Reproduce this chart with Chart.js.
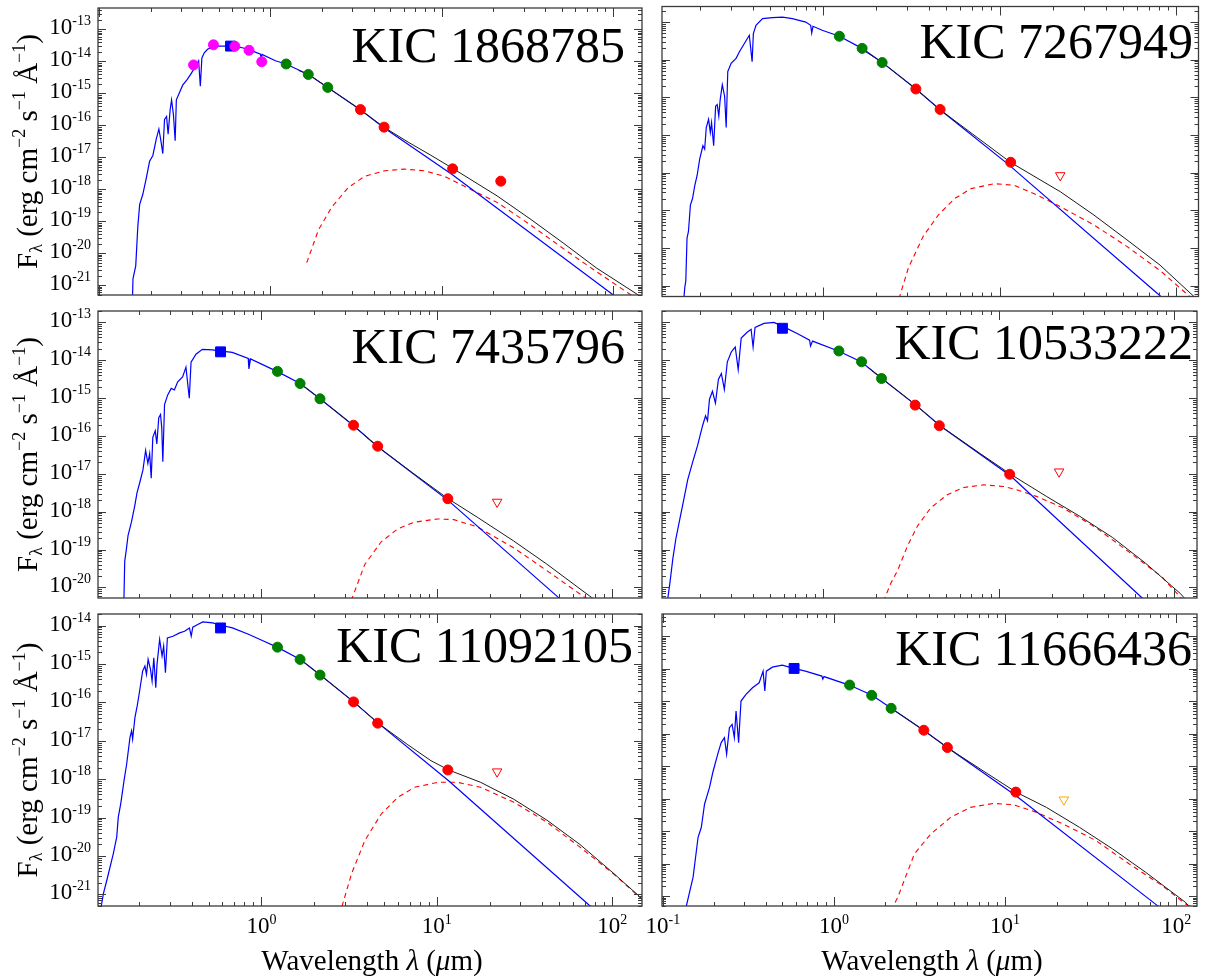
<!DOCTYPE html>
<html><head><meta charset="utf-8">
<script src="https://cdn.jsdelivr.net/npm/chart.js@4.4.1/dist/chart.umd.min.js"></script>
<style>
html,body{margin:0;padding:0;background:#fff;}
#wrap{position:relative;width:1205px;height:979px;background:#fff;overflow:hidden;}
canvas{position:absolute;}
</style></head><body><div id="wrap"></div>
<script>
// ===== DATA: [wavelength (micron), F_lambda (erg cm^-2 s^-1 A^-1)] =====
// KIC 1868785
const tlSpec = [[0.1565,3e-22],[0.1578,1.64e-21],[0.1637,4.07e-21],[0.1683,6.76e-20],[0.1726,3.39e-19],[0.1799,6.92e-19],[0.1888,2.29e-18],[0.1972,7.59e-18],[0.2061,1.15e-17],[0.2158,3.80e-17],[0.2234,7.76e-17],[0.2286,3.80e-17],[0.2355,1.32e-17],[0.2410,1.55e-16],[0.2477,1.91e-16],[0.2529,5.37e-17],[0.2600,3.16e-16],[0.2649,6.31e-16],[0.2716,2.19e-16],[0.2780,3.31e-17],[0.2825,6.31e-16],[0.2944,1.05e-15],[0.3076,1.82e-15],[0.3273,2.75e-15],[0.3451,4.27e-15],[0.3681,7.41e-15],[0.3811,1.05e-14],[0.3899,1.70e-15],[0.3981,1.29e-14],[0.4111,1.86e-14],[0.4295,2.40e-14],[0.4592,2.82e-14],[0.5023,3.02e-14],[0.5998,3.02e-14],[0.6855,2.69e-14],[0.7816,2.14e-14],[0.8750,1.70e-14],[0.8831,1.17e-14],[0.8933,1.66e-14],[1.069,1.05e-14],[1.230,8.36e-15],[1.667,3.94e-15],[2.158,1.55e-15],[3.334,3.13e-16],[4.592,8.53e-17],[11.53,2.88e-18],[97.5,5.57e-22],[136.1,1.48e-22]];
const tlDisk = [[1.629,5.14e-21],[1.905,5.38e-20],[2.275,2.77e-19],[2.838,1.13e-18],[3.548,2.58e-18],[4.634,3.82e-18],[6.053,4.31e-18],[7.907,3.82e-18],[10.33,2.58e-18],[13.46,1.27e-18],[20.99,3.94e-19],[32.73,7.94e-20],[51.17,1.41e-20],[79.80,2.69e-21],[127.1,5.0e-22],[155.2,2.4e-22]];
const tlTotal = [[1.459,5.22e-15],[1.667,3.94e-15],[2.158,1.55e-15],[3.334,3.13e-16],[4.592,8.85e-17],[6.353,3.02e-17],[8.630,1.17e-17],[11.53,4.61e-18],[20.99,6.3e-19],[32.73,1.2e-19],[51.17,2.1e-20],[79.8,3.5e-21],[135.8,5.57e-22],[154.9,3.39e-22]];
const tlSdss = [[0.356,7.8e-15],[0.465,3.32e-14],[0.62,3.0e-14],[0.75,2.24e-14],[0.89,9.8e-15]];
const tlKp = [[0.585,3.03e-14]];
const tl2mass = [[1.235,8.35e-15],[1.662,3.93e-15],[2.159,1.55e-15]];
const tlWise = [[3.353,3.13e-16],[4.603,8.85e-17],[11.56,4.4e-18],[22.08,1.81e-18]];

// KIC 7267949
const trSpec = [[0.1589,1.45e-21],[0.1641,8.85e-21],[0.1663,1.33e-20],[0.1690,1.82e-19],[0.1722,2.74e-19],[0.1766,1.37e-18],[0.1816,2.06e-18],[0.1871,4.59e-18],[0.1928,8.41e-18],[0.1995,2.31e-17],[0.2080,5.18e-17],[0.2128,4.24e-17],[0.2173,1.58e-16],[0.2239,2.61e-16],[0.2291,1.16e-16],[0.2328,2.13e-16],[0.2393,5.18e-17],[0.2455,5.83e-16],[0.2506,6.46e-16],[0.2559,3.18e-16],[0.2606,8.75e-16],[0.2679,2.17e-15],[0.2761,1.07e-15],[0.2818,1.58e-16],[0.2877,4.85e-15],[0.3006,8.05e-15],[0.3206,1.09e-14],[0.3350,1.63e-14],[0.3573,2.70e-14],[0.3811,4.47e-14],[0.3954,8.87e-15],[0.4018,4.95e-14],[0.4159,8.18e-14],[0.4529,1.23e-13],[0.5164,1.31e-13],[0.5875,1.35e-13],[0.6683,1.23e-13],[0.7962,1.0e-13],[0.8492,8.18e-14],[0.8610,5.14e-14],[0.8750,7.71e-14],[0.9863,6.05e-14],[1.236,4.21e-14],[1.660,2.0e-14],[2.168,8.36e-15],[3.357,1.67e-15],[4.58,4.77e-16],[11.12,1.71e-17],[81.3,5.36e-21],[148.9,4.7e-22]];
const trDisk = [[2.60,2.63e-21],[3.04,2.95e-20],[3.69,2.04e-19],[4.49,7.48e-19],[5.57,2.06e-18],[6.90,3.77e-18],[9.35,5.1e-18],[12.13,4.6e-18],[16.41,2.51e-18],[22.2,1.24e-18],[34.3,4.08e-19],[52.7,1.10e-19],[81.3,2.51e-20],[120,5.1e-21],[148.9,2.2e-21]];
const trTotal = [[1.588,2.16e-14],[2.168,8.36e-15],[3.357,1.67e-15],[4.58,4.77e-16],[7.06,1.05e-16],[11.52,1.89e-17],[22.2,3.08e-18],[34.3,7.48e-19],[52.7,1.65e-19],[81.3,3.5e-20],[125.3,5.36e-21],[148.9,2.4e-21]];
const tr2mass = [[1.235,4.2e-14],[1.662,2.0e-14],[2.159,8.4e-15]];
const trWise = [[3.353,1.67e-15],[4.603,4.77e-16],[11.56,1.89e-17]];
const trLimit = [[22.08,8.43e-18]];

// KIC 7435796
const mlSpec = [[0.1640,2.24e-21],[0.1663,4.9e-20],[0.1702,1.08e-19],[0.1738,2.39e-19],[0.1816,5.3e-19],[0.1897,1.43e-18],[0.1954,3.16e-18],[0.2023,5.74e-18],[0.2113,1.27e-17],[0.2188,4.17e-17],[0.2254,1.89e-17],[0.2307,3.43e-17],[0.2355,7.73e-18],[0.2404,9.2e-17],[0.2483,1.37e-16],[0.2535,6.21e-17],[0.2600,3.03e-16],[0.2661,3.71e-16],[0.2704,1.67e-16],[0.2742,2.08e-17],[0.2805,6.73e-16],[0.2924,1.22e-15],[0.3062,1.81e-15],[0.3192,1.64e-15],[0.3334,2.69e-15],[0.3556,3.63e-15],[0.3715,6.58e-15],[0.3882,9.95e-16],[0.3972,8.87e-15],[0.4236,1.45e-14],[0.4613,1.95e-14],[0.5260,1.89e-14],[0.5741,1.78e-14],[0.6823,1.61e-14],[0.8414,1.12e-14],[0.8492,5.94e-15],[0.8670,1.08e-14],[1.227,5.09e-15],[1.665,2.43e-15],[2.160,9.6e-16],[3.334,1.93e-16],[4.57,5.38e-17],[11.60,2.0e-18],[49.3,5.5e-21],[177.4,2.57e-23]];
const mlDisk = [[3.12,2.7e-21],[3.88,4.0e-20],[4.82,1.61e-19],[6.0,3.56e-19],[7.45,5.3e-19],[10.09,6.46e-19],[12.53,6.2e-19],[17.0,3.98e-19],[27.4,1.12e-19],[42.3,2.82e-20],[69.7,5.5e-21],[81.3,3.3e-21]];
const mlTotal = [[1.665,2.43e-15],[2.160,9.6e-16],[3.334,1.93e-16],[4.57,5.38e-17],[7.29,1.06e-17],[11.60,2.21e-18],[17.0,7.2e-19],[27.4,1.7e-19],[42.3,4.17e-20],[76.1,5.5e-21],[92.5,2.7e-21]];
const mlKp = [[0.585,1.67e-14]];
const ml2mass = [[1.235,5.09e-15],[1.662,2.43e-15],[2.159,9.6e-16]];
const mlWise = [[3.353,1.93e-16],[4.603,5.38e-17],[11.56,2.21e-18]];
const mlLimit = [[22.08,1.81e-18]];

// KIC 10533222
const mrSpec = [[0.1309,2.57e-21],[0.1316,5.27e-21],[0.1351,1.29e-20],[0.1405,5.77e-20],[0.1461,1.91e-19],[0.1538,6.32e-19],[0.1621,2.09e-18],[0.1706,6.93e-18],[0.1821,2.04e-17],[0.1943,5.64e-17],[0.2073,1.87e-16],[0.2156,3.40e-16],[0.2212,2.52e-16],[0.2270,9.38e-16],[0.2360,1.51e-15],[0.2454,7.38e-16],[0.2551,3.10e-15],[0.2652,4.45e-15],[0.2758,1.71e-15],[0.2868,9.12e-15],[0.3020,1.66e-14],[0.3180,2.24e-14],[0.3306,5.65e-15],[0.3438,3.84e-14],[0.3716,5.50e-14],[0.3914,6.58e-14],[0.4017,2.24e-14],[0.4122,7.41e-14],[0.4634,9.42e-14],[0.5276,1.0e-13],[0.5929,7.87e-14],[0.7295,4.88e-14],[0.8415,3.40e-14],[0.8525,2.38e-14],[0.8749,3.21e-14],[1.226,1.76e-14],[1.652,9.12e-15],[2.169,3.30e-15],[3.385,6.55e-16],[4.645,1.87e-16],[11.72,8.81e-18],[65.5,5.27e-21],[148.9,2.64e-22]];
const mrDisk = [[2.114,2.57e-21],[2.438,1.29e-20],[2.670,2.87e-20],[3.040,1.28e-19],[3.461,4.24e-19],[4.113,1.27e-18],[5.108,2.82e-18],[6.343,4.38e-18],[8.222,5.14e-18],[10.66,4.65e-18],[12.66,3.81e-18],[16.41,2.55e-18],[23.21,1.27e-18],[35.75,3.80e-19],[55.07,8.7e-20],[84.92,1.9e-20],[105.3,6.3e-21],[130.8,2.24e-21]];
const mrTotal = [[1.809,6.49e-15],[2.169,3.30e-15],[3.385,6.55e-16],[4.645,1.87e-16],[7.87,3.43e-17],[11.72,9.75e-18],[18.69,2.55e-18],[28.79,7.71e-19],[44.4,2.1e-19],[68.4,4.4e-20],[107.7,7.0e-21],[130.8,2.6e-21]];
const mrKp = [[0.59,7.0e-14]];
const mr2mass = [[1.235,1.76e-14],[1.662,9.1e-15],[2.159,3.3e-15]];
const mrWise = [[3.353,6.55e-16],[4.603,1.87e-16],[11.56,9.75e-18]];
const mrLimit = [[22.08,1.14e-17]];

// KIC 11092105
const blSpec = [[0.1205,3.47e-22],[0.1258,1.06e-21],[0.1315,2.34e-21],[0.1432,1.16e-20],[0.1497,3.11e-20],[0.1528,1.03e-19],[0.1578,2.29e-19],[0.1648,9.18e-19],[0.1706,2.49e-18],[0.1782,1.22e-17],[0.1820,1.82e-17],[0.1845,1.11e-17],[0.1901,4.02e-17],[0.1959,8.09e-17],[0.2009,1.63e-16],[0.2104,6.53e-16],[0.2168,8.81e-16],[0.2213,5.37e-16],[0.2261,1.32e-15],[0.2333,7.23e-16],[0.2382,3.60e-16],[0.2436,1.45e-15],[0.2500,2.41e-16],[0.2541,9.75e-16],[0.2630,4.34e-15],[0.2716,1.60e-15],[0.2773,2.90e-15],[0.2838,5.90e-16],[0.2911,4.78e-15],[0.3133,5.28e-15],[0.3420,6.43e-15],[0.3648,7.11e-15],[0.3890,8.67e-15],[0.3981,5.28e-15],[0.4064,9.04e-15],[0.4335,1.06e-14],[0.4634,1.24e-14],[0.5272,1.17e-14],[0.5888,1.02e-14],[0.6839,8.67e-15],[0.8506,5.85e-15],[1.012,4.08e-15],[1.230,2.74e-15],[1.668,1.31e-15],[2.167,5.14e-16],[3.357,1.03e-16],[4.63,2.88e-17],[11.68,9.1e-19],[74.0,5.25e-22],[156,3.6e-23]];
const blDisk = [[2.786,2.9e-22],[3.269,3.50e-21],[3.893,2.56e-20],[4.834,1.26e-19],[6.007,3.39e-19],[7.468,6.15e-19],[10.12,8.30e-19],[13.13,8.30e-19],[17.79,6.15e-19],[27.50,2.51e-19],[42.43,7.62e-20],[65.49,1.71e-20],[101.2,3.50e-21],[149.6,7.11e-22]];
const blTotal = [[1.668,1.31e-15],[2.167,5.14e-16],[3.357,1.03e-16],[4.63,2.88e-17],[6.84,7.88e-18],[9.27,3.03e-18],[11.68,1.74e-18],[17.79,8.30e-19],[27.5,3.0e-19],[42.43,8.6e-20],[65.49,2.0e-20],[101.2,3.63e-21],[149.6,7.41e-22]];
const blKp = [[0.585,8.67e-15]];
const bl2mass = [[1.235,2.74e-15],[1.662,1.31e-15],[2.159,5.14e-16]];
const blWise = [[3.353,1.03e-16],[4.603,2.88e-17],[11.56,1.74e-18]];
const blLimit = [[22.08,1.57e-18]];

// KIC 11666436
const brSpec = [[0.1363,2.58e-22],[0.1375,5.23e-22],[0.1503,3.85e-21],[0.1607,6.50e-20],[0.1679,1.32e-19],[0.1754,6.88e-19],[0.1875,2.22e-18],[0.1959,6.41e-18],[0.2094,2.35e-17],[0.2193,5.33e-17],[0.2291,7.59e-17],[0.2360,2.35e-17],[0.2449,1.54e-16],[0.2541,1.95e-16],[0.2618,7.59e-17],[0.2679,5.00e-16],[0.2773,5.33e-17],[0.2864,1.01e-15],[0.3062,1.63e-15],[0.3342,2.60e-15],[0.3656,3.69e-15],[0.3855,8.43e-15],[0.3945,2.06e-15],[0.4027,8.43e-15],[0.4365,1.12e-14],[0.4989,1.29e-14],[0.5827,1.02e-14],[0.6810,8.43e-15],[0.8500,5.93e-15],[0.861,4.80e-15],[0.875,5.73e-15],[1.229,3.14e-15],[1.671,1.52e-15],[2.162,6.05e-16],[3.342,1.28e-16],[4.60,3.75e-17],[11.59,1.24e-18],[77.4,5.23e-22],[147.4,3.83e-23]];
const brDisk = [[2.153,3.66e-22],[2.364,9.38e-22],[2.953,2.01e-20],[3.684,8.26e-20],[4.810,2.67e-19],[6.281,5.41e-19],[8.579,7.18e-19],[11.20,6.55e-19],[15.28,3.80e-19],[21.82,1.67e-19],[34.01,5.15e-20],[53.02,9.93e-21],[82.77,2.14e-21],[112.9,5.89e-22],[137.9,3.18e-22]];
const brTotal = [[2.162,6.05e-16],[3.342,1.28e-16],[4.60,3.75e-17],[7.44,7.22e-18],[11.59,1.60e-18],[17.46,5.41e-19],[27.22,1.32e-19],[42.49,2.86e-20],[66.26,5.48e-21],[112.9,6.59e-22],[118,5.23e-22],[140,2.5e-22]];
const brKp = [[0.585,1.02e-14]];
const br2mass = [[1.235,3.14e-15],[1.662,1.52e-15],[2.159,6.05e-16]];
const brWise = [[3.353,1.28e-16],[4.603,3.75e-17],[11.56,1.60e-18]];
const brLimit = [[22.08,9.31e-19]];

// tick label exponents (powers of ten)
const tlYTicks = [-13,-14,-15,-16,-17,-18,-19,-20,-21];
const mlYTicks = [-13,-14,-15,-16,-17,-18,-19,-20];
const blYTicks = [-14,-15,-16,-17,-18,-19,-20,-21];
const blXTicks = [0,1,2];
const brXTicks = [-1,0,1,2];
const titles = ['KIC 1868785','KIC 7267949','KIC 7435796','KIC 10533222','KIC 11092105','KIC 11666436'];

// ===== RENDERING =====
const FONT = '"Liberation Serif","Times New Roman",Times,serif';
const MAJ = 8, MIN = 4;

function pts(arr){ return arr.map(p => ({x:p[0], y:p[1]})); }
function lineDS(arr, color, width, dash, order){
  return {data: pts(arr), showLine:true, borderColor:color, backgroundColor:color, borderWidth:width, borderDash:dash||[], pointRadius:0, pointHoverRadius:0, tension:0, fill:false, order:order};
}
function markDS(arr, style, color, radius, extra){
  return Object.assign({data: pts(arr), showLine:false, pointStyle:style, pointRadius:radius, pointHoverRadius:radius, backgroundColor:color, borderColor:color, borderWidth:1, order:0}, extra||{});
}
function limDS(arr, color){
  return markDS(arr, 'triangle', color, 5.5, {backgroundColor:'rgba(255,255,255,0)', pointRotation:180, borderWidth:1});
}

function expStr(e){ return e < 0 ? '-' + Math.abs(e) : String(e); }
function drawRich(ctx, segs, x, y, align){
  let w = 0;
  segs.forEach(s => { ctx.font = (s.it ? 'italic ' : '') + s.size + 'px ' + FONT; s.w = ctx.measureText(s.t).width; w += s.w; });
  let cx = align === 'right' ? x - w : (align === 'center' ? x - w/2 : x);
  ctx.textAlign = 'left'; ctx.textBaseline = 'alphabetic';
  segs.forEach(s => { ctx.font = (s.it ? 'italic ' : '') + s.size + 'px ' + FONT; ctx.fillText(s.t, cx, y + (s.dy || 0)); cx += s.w; });
}
function powSegs(e){ return [{t:'10', size:23}, {t:expStr(e), size:14, dy:-9}]; }

function drawTicks(ctx, s, a, horiz){
  const lo = Math.log10(s.min), hi = Math.log10(s.max);
  for (let d = Math.floor(lo); d <= Math.ceil(hi); d++){
    for (let k = 1; k <= 9; k++){
      const v = k * Math.pow(10, d), lv = Math.log10(v);
      if (lv < lo - 1e-9 || lv > hi + 1e-9) continue;
      const p = Math.round(s.getPixelForValue(v)) + 0.5;
      const L = k === 1 ? MAJ : MIN;
      ctx.beginPath();
      if (horiz){ ctx.moveTo(p, a.bottom); ctx.lineTo(p, a.bottom - L - (k===1?1:0)); ctx.moveTo(p, a.top); ctx.lineTo(p, a.top + L + (k===1?1:0)); }
      else { ctx.moveTo(a.left, p); ctx.lineTo(a.left + L, p); ctx.moveTo(a.right, p); ctx.lineTo(a.right - L, p); }
      ctx.stroke();
    }
  }
}

const panelPlugin = {
  id: 'panel',
  afterDraw(chart, args, o){
    const ctx = chart.ctx, a = chart.chartArea, xs = chart.scales.x, ys = chart.scales.y;
    ctx.save();
    ctx.strokeStyle = '#3a3a3a'; ctx.lineWidth = 1;
    drawTicks(ctx, xs, a, true);
    drawTicks(ctx, ys, a, false);
    ctx.lineWidth = 1.3;
    ctx.strokeRect(a.left, a.top, a.right - a.left, a.bottom - a.top);
    ctx.fillStyle = '#000';
    (o.yLabels || []).forEach(e => {
      const p = ys.getPixelForValue(Math.pow(10, e));
      drawRich(ctx, powSegs(e), a.left - 7, p + 5, 'right');
    });
    (o.xLabels || []).forEach(e => {
      const p = xs.getPixelForValue(Math.pow(10, e));
      drawRich(ctx, powSegs(e), p, a.bottom + 27, 'center');
    });
    ctx.font = '50px ' + FONT; ctx.textAlign = 'right'; ctx.textBaseline = 'alphabetic';
    ctx.fillText(o.title, o.titleX, o.titleY);
    if (o.yTitle){
      ctx.save();
      ctx.translate(37, (a.top + a.bottom) / 2);
      ctx.rotate(-Math.PI / 2);
      drawRich(ctx, [
        {t:'F', size:29}, {t:'\u03BB', size:18, dy:5}, {t:' (erg cm', size:29},
        {t:'\u22122', size:18, dy:-12}, {t:' s', size:29}, {t:'\u22121', size:18, dy:-12},
        {t:' \u00C5', size:29}, {t:'\u22121', size:18, dy:-12}, {t:')', size:29}
      ], 0, 0, 'center');
      ctx.restore();
    }
    if (o.xTitle){
      drawRich(ctx, [
        {t:'Wavelength ', size:29}, {t:'\u03BB', size:29, it:true}, {t:' (', size:29},
        {t:'\u03BC', size:29, it:true}, {t:'m)', size:29}
      ], o.xTitleX, a.bottom + 64, 'center');
    }
    ctx.restore();
  }
};

function datasets(spec, disk, total, marks){
  return [
    lineDS(disk, '#ff0000', 1.1, [5,4], 3),
    lineDS(spec, '#0000ff', 1.2, [], 2),
    lineDS(total, '#1a1a1a', 1, [], 1)
  ].concat(marks);
}

const LEFT = {left:0, width:650, pl:98, pr:4};
const RIGHT = {left:640, width:565, pl:22, pr:3};
const ROW1 = {top:0, height:303, pt:6, pb:4};
const ROW2 = {top:303, height:303, pt:5, pb:5};
const ROW3 = {top:606, height:373, pt:7, pb:73};

const panels = [
  {col:LEFT, row:ROW1, x:[0.0986,147.2], y:[5.31e-22,4.70e-13],
   ds: datasets(tlSpec, tlDisk, tlTotal, [
     markDS(tlSdss,'circle','#ff00ff',5), markDS(tlKp,'rect','#0000ff',7),
     markDS(tl2mass,'circle','#008000',5), markDS(tlWise,'circle','#ff0000',5)]),
   opt:{title:titles[0], titleX:625, titleY:62, yLabels:tlYTicks, yTitle:true}},
  {col:RIGHT, row:ROW1, x:[0.1219,134.3], y:[5.14e-21,2.59e-13],
   ds: datasets(trSpec, trDisk, trTotal, [
     markDS(tr2mass,'circle','#008000',5), markDS(trWise,'circle','#ff0000',5), limDS(trLimit,'#ff0000')]),
   opt:{title:titles[1], titleX:553, titleY:58}},
  {col:LEFT, row:ROW2, x:[0.1171,147.9], y:[5.28e-21,2.0e-13],
   ds: datasets(mlSpec, mlDisk, mlTotal, [
     markDS(mlKp,'rect','#0000ff',7), markDS(ml2mass,'circle','#008000',5),
     markDS(mlWise,'circle','#ff0000',5), limDS(mlLimit,'#ff0000')]),
   opt:{title:titles[2], titleX:625, titleY:60, yLabels:mlYTicks, yTitle:true}},
  {col:RIGHT, row:ROW2, x:[0.1219,134.3], y:[5.28e-21,2.0e-13],
   ds: datasets(mrSpec, mrDisk, mrTotal, [
     markDS(mrKp,'rect','#0000ff',7), markDS(mr2mass,'circle','#008000',5),
     markDS(mrWise,'circle','#ff0000',5), limDS(mrLimit,'#ff0000')]),
   opt:{title:titles[3], titleX:553, titleY:56}},
  {col:LEFT, row:ROW3, x:[0.1171,147.9], y:[5.01e-22,2.0e-14],
   ds: datasets(blSpec, blDisk, blTotal, [
     markDS(blKp,'rect','#0000ff',7), markDS(bl2mass,'circle','#008000',5),
     markDS(blWise,'circle','#ff0000',5), limDS(blLimit,'#ff0000')]),
   opt:{title:titles[4], titleX:633, titleY:56, yLabels:blYTicks, xLabels:blXTicks, yTitle:true, xTitle:true, xTitleX:372}},
  {col:RIGHT, row:ROW3, x:[0.0989,132.4], y:[5.13e-22,4.83e-13],
   ds: datasets(brSpec, brDisk, brTotal, [
     markDS(brKp,'rect','#0000ff',7), markDS(br2mass,'circle','#008000',5),
     markDS(brWise,'circle','#ff0000',5), limDS(brLimit,'#ffa500')]),
   opt:{title:titles[5], titleX:552, titleY:59, xLabels:brXTicks, xTitle:true, xTitleX:292}}
];

const wrap = document.getElementById('wrap');
panels.forEach(p => {
  const c = document.createElement('canvas');
  c.width = p.col.width; c.height = p.row.height;
  c.style.left = p.col.left + 'px'; c.style.top = p.row.top + 'px';
  c.style.width = p.col.width + 'px'; c.style.height = p.row.height + 'px';
  wrap.appendChild(c);
  new Chart(c.getContext('2d'), {
    type: 'scatter',
    data: {datasets: p.ds},
    options: {
      responsive:false, animation:false, devicePixelRatio:1, events:[],
      layout:{padding:{left:p.col.pl, right:p.col.pr, top:p.row.pt, bottom:p.row.pb}},
      plugins:{legend:{display:false}, tooltip:{enabled:false}, panel:p.opt},
      scales:{
        x:{type:'logarithmic', min:p.x[0], max:p.x[1], display:false},
        y:{type:'logarithmic', min:p.y[0], max:p.y[1], display:false}
      }
    },
    plugins:[panelPlugin]
  });
});
</script></body></html>
